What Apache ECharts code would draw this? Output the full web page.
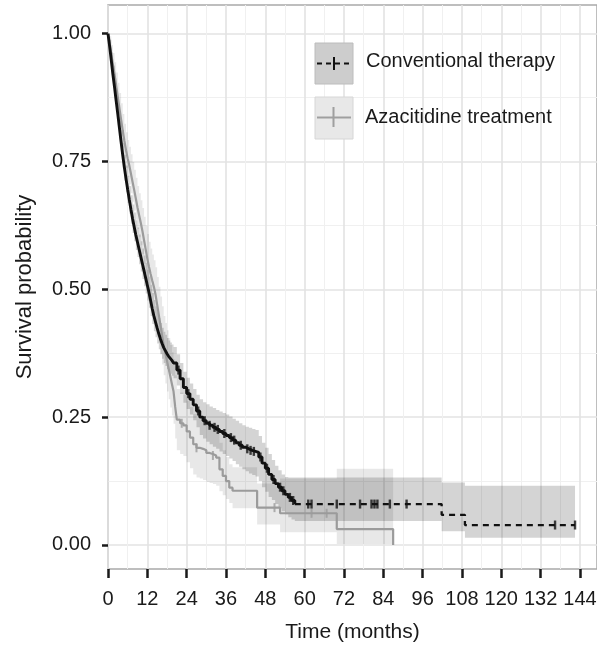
<!DOCTYPE html>
<html>
<head>
<meta charset="utf-8">
<script src="https://cdn.jsdelivr.net/npm/echarts@6/dist/echarts.min.js"></script>
<style>html,body{margin:0;padding:0;background:#fff}#c{width:597px;height:648px}</style>
</head>
<body>
<div id="c"></div>
<script>
// ---------- data ----------
const xTicks = [0, 12, 24, 36, 48, 60, 72, 84, 96, 108, 120, 132, 144];
const xMinor = [6, 18, 30, 42, 54, 66, 78, 90, 102, 114, 126, 138];
const yTicks = [0, 0.25, 0.5, 0.75, 1];
const yMinor = [0.125, 0.375, 0.625, 0.875];

const seriesNames = ['Conventional therapy', 'Azacitidine treatment'];

// Conventional therapy (Kaplan-Meier, months)
const convTime = [0,0.5,1,1.5,2,2.5,3,3.5,4,4.5,5,5.5,6,6.5,7,7.5,8,8.5,9,9.5,10,10.5,11,11.5,12,12.5,13,13.5,14,14.5,15,15.5,16,16.5,17,17.5,18,18.5,19,19.5,20,
  21,22,23,24,25,26,27,28,29,30,31,32,33,34,35,36,37,38,39,40,41,42,43,44,45,46,47,48,49,50,51,52,53,54,55,56,57,101.8,108.9,142.5];
const convSurv = [1,.975,.948,.92,.895,.868,.842,.815,.788,.762,.738,.716,.695,.675,.656,.638,.622,.606,.592,.578,.564,.55,.536,.522,.508,.494,.478,.462,.448,.436,.424,.413,.403,.394,.386,.38,.374,.369,.365,.361,.356,
  .342,.325,.308,.296,.285,.274,.262,.25,.243,.238,.234,.23,.226,.222,.218,.214,.21,.205,.2,.195,.191,.188,.185,.183,.181,.172,.16,.15,.138,.128,.12,.113,.106,.099,.093,.087,.08,.059,.039,.039];
const convLower = [1,.962,.932,.902,.876,.848,.821,.793,.765,.738,.713,.69,.669,.648,.628,.61,.594,.577,.563,.549,.535,.52,.506,.492,.478,.464,.448,.432,.418,.406,.394,.383,.373,.364,.356,.35,.344,.339,.335,.331,.326,
  .312,.295,.278,.266,.255,.244,.23,.215,.208,.202,.197,.192,.188,.183,.178,.174,.169,.164,.158,.153,.148,.144,.14,.137,.134,.125,.113,.104,.094,.088,.08,.072,.066,.06,.054,.05,.047,.027,.014,.014];
const convUpper = [1,.988,.963,.937,.913,.888,.863,.837,.811,.786,.763,.742,.722,.702,.684,.666,.65,.635,.621,.607,.594,.58,.566,.552,.538,.525,.509,.493,.479,.467,.455,.444,.434,.425,.417,.411,.405,.4,.396,.392,.387,
  .373,.356,.339,.327,.316,.305,.294,.285,.279,.275,.271,.268,.264,.261,.258,.255,.251,.247,.243,.238,.234,.231,.229,.227,.225,.213,.2,.19,.178,.166,.155,.146,.138,.133,.132,.132,.132,.122,.116,.116];
const convCensor = [21.5,24.5,27.5,29.5,31,32.5,33.5,35.5,37.5,38.5,40.5,42.5,43.5,44.5,46.5,48.5,50.5,52.5,53.5,55.5,56.5,61.1,62.1,69.8,76.9,80.4,81.3,82.2,86.0,91.1,136.4,142.5];

// Azacitidine treatment
const azaTime = [0,0.5,1,1.5,2,2.5,3,3.5,4,4.5,5,5.5,6,6.5,7,7.5,8,8.5,9,9.5,10,10.5,11,11.5,12,12.5,13,13.5,14,14.5,15,15.5,16,16.5,17,17.5,18,18.5,19,19.5,20,
  20.5,21,22,23,24,25,26,27,28,29,30,31,32,33,34,35,36,37,38,45.5,52.5,69.8,87];
const azaSurv = [1,.98,.96,.94,.92,.898,.876,.854,.832,.81,.79,.772,.756,.742,.726,.71,.694,.677,.66,.645,.63,.614,.596,.578,.56,.544,.53,.517,.505,.49,.47,.45,.43,.41,.39,.375,.36,.345,.33,.315,.30,
  .27,.245,.238,.234,.222,.21,.197,.19,.188,.185,.18,.178,.175,.171,.148,.135,.125,.112,.106,.073,.062,.031,0];
const azaLower = [1,.965,.942,.918,.896,.872,.848,.824,.8,.777,.756,.737,.72,.705,.688,.671,.654,.636,.618,.602,.586,.569,.55,.531,.512,.495,.48,.466,.453,.437,.416,.395,.374,.353,.332,.316,.3,.285,.269,.253,.237,
  .208,.185,.178,.174,.162,.15,.138,.132,.13,.127,.123,.121,.119,.116,.105,.097,.09,.082,.072,.04,.025,.002,0];
const azaUpper = [1,.995,.978,.962,.944,.924,.904,.884,.864,.843,.824,.807,.792,.779,.764,.749,.734,.718,.702,.688,.674,.659,.642,.625,.608,.593,.58,.568,.557,.543,.524,.505,.486,.467,.448,.434,.42,.405,.391,.377,.363,
  .332,.305,.298,.294,.282,.27,.256,.248,.246,.243,.237,.235,.231,.226,.2,.185,.172,.158,.152,.12,.13,.149,0];
const azaCensor = [22.5,27,32,50.8,62.1,66.7];

// ---------- helpers ----------
function pairs(t, v, from, to) {
  const out = [];
  for (let i = 0; i < t.length; i++) if (t[i] >= from && t[i] <= to) out.push([t[i], v[i]]);
  return out;
}
function stepAt(t, v, x) {
  let val = v[0];
  for (let i = 0; i < t.length; i++) { if (t[i] <= x) val = v[i]; else break; }
  return val;
}
function censorPts(times, t, v) { return times.map(x => [x, stepAt(t, v, x)]); }
function bandSeries(t, lo, hi, fill, z) {
  return {
    type: 'custom', xAxisIndex: 0, yAxisIndex: 0, data: [[0, 0]], silent: true, z: z, clip: true,
    renderItem: function (params, api) {
      const pts = [];
      for (let i = 0; i < t.length - 1; i++) { pts.push(api.coord([t[i], hi[i]])); pts.push(api.coord([t[i + 1], hi[i]])); }
      for (let i = t.length - 2; i >= 0; i--) { pts.push(api.coord([t[i + 1], lo[i]])); pts.push(api.coord([t[i], lo[i]])); }
      return { type: 'polygon', shape: { points: pts }, style: { fill: fill } };
    }
  };
}

const FONT = "'Liberation Sans', Arial, Helvetica, sans-serif";
const chart = echarts.init(document.getElementById('c'), null, { renderer: 'canvas' });

const option = {
  animation: false,
  backgroundColor: '#ffffff',
  grid: { left: 108, right: 0, top: 5, bottom: 79, show: true, borderColor: '#a9a9a9', borderWidth: 1.5, backgroundColor: 'transparent', outerBoundsMode: 'none', containLabel: false },
  xAxis: [
    { type: 'value', min: 0, max: 149.2, position: 'bottom',
      name: 'Time (months)', nameLocation: 'middle', nameGap: 53,
      nameTextStyle: { fontSize: 21, color: '#1a1a1a', fontFamily: FONT },
      axisLine: { show: false, onZero: false },
      axisTick: { show: true, length: 9, customValues: xTicks, lineStyle: { color: '#1a1a1a', width: 2.5 } },
      axisLabel: { customValues: xTicks, fontSize: 20, color: '#1a1a1a', fontFamily: FONT, margin: 20 },
      splitLine: { show: true, lineStyle: { color: '#e3e3e3', width: 1.6 } } },
    { type: 'value', min: 0, max: 149.2, position: 'top',
      axisLine: { show: false, onZero: false }, axisLabel: { show: false },
      axisTick: { show: false, customValues: xMinor },
      splitLine: { show: true, lineStyle: { color: '#f0f0f0', width: 1 } } }
  ],
  yAxis: [
    { type: 'value', min: -0.047, max: 1.056, position: 'left',
      name: 'Survival probability', nameLocation: 'middle', nameGap: 72, nameRotate: 90,
      nameTextStyle: { fontSize: 22, color: '#1a1a1a', fontFamily: FONT },
      axisLine: { show: false, onZero: false },
      axisTick: { show: true, length: 6, customValues: yTicks, lineStyle: { color: '#1a1a1a', width: 2.5 } },
      axisLabel: { customValues: yTicks, fontSize: 20, color: '#1a1a1a', fontFamily: FONT, margin: 17, formatter: v => v.toFixed(2) },
      splitLine: { show: true, lineStyle: { color: '#e3e3e3', width: 1.6 } } },
    { type: 'value', min: -0.047, max: 1.056, position: 'right',
      axisLine: { show: false, onZero: false }, axisLabel: { show: false },
      axisTick: { show: false, customValues: yMinor },
      splitLine: { show: true, lineStyle: { color: '#f0f0f0', width: 1 } } }
  ],
  series: [
    bandSeries(azaTime, azaLower, azaUpper, 'rgba(0,0,0,0.09)', 1),
    bandSeries(convTime, convLower, convUpper, 'rgba(0,0,0,0.17)', 2),
    { name: seriesNames[1], type: 'line', step: 'end', showSymbol: false, symbol: 'none', z: 3,
      data: pairs(azaTime, azaSurv, 0, 200), lineStyle: { color: '#9b9b9b', width: 2.2 } },
    { name: seriesNames[0], type: 'line', step: 'end', showSymbol: false, symbol: 'none', z: 4,
      data: pairs(convTime, convSurv, 0, 57), lineStyle: { color: '#111111', width: 2.9 } },
    { name: seriesNames[0] + ' tail', type: 'line', step: 'end', showSymbol: false, symbol: 'none', z: 4,
      data: pairs(convTime, convSurv, 57, 200), lineStyle: { color: '#111111', width: 2.3, type: [6, 5] } },
    { type: 'scatter', z: 5, silent: true, symbol: 'rect', symbolSize: [2, 9],
      itemStyle: { color: '#9b9b9b' }, data: censorPts(azaCensor, azaTime, azaSurv) },
    { type: 'scatter', z: 6, silent: true, symbol: 'rect', symbolSize: [2.4, 9],
      itemStyle: { color: '#111111' }, data: censorPts(convCensor, convTime, convSurv) }
  ],
  graphic: [
    { type: 'rect', shape: { x: 315, y: 43, width: 38, height: 41 }, style: { fill: '#cdcdcd', stroke: '#bcbcbc', lineWidth: 1 }, z: 10 },
    { type: 'line', shape: { x1: 317, y1: 63.5, x2: 351, y2: 63.5 }, style: { stroke: '#111', lineWidth: 2.2, lineDash: [5, 4] }, z: 11 },
    { type: 'line', shape: { x1: 334, y1: 57, x2: 334, y2: 70 }, style: { stroke: '#111', lineWidth: 2 }, z: 11 },
    { type: 'rect', shape: { x: 315, y: 97, width: 38, height: 42 }, style: { fill: '#e8e8e8', stroke: '#d6d6d6', lineWidth: 1 }, z: 10 },
    { type: 'line', shape: { x1: 317, y1: 117.5, x2: 351, y2: 117.5 }, style: { stroke: '#9f9f9f', lineWidth: 2.2 }, z: 11 },
    { type: 'line', shape: { x1: 333.5, y1: 107, x2: 333.5, y2: 127 }, style: { stroke: '#9f9f9f', lineWidth: 2 }, z: 11 },
    { type: 'text', x: 366, y: 61, z: 11, style: { text: seriesNames[0], fontSize: 20, fontFamily: FONT, fill: '#1a1a1a', verticalAlign: 'middle', align: 'left' } },
    { type: 'text', x: 365, y: 117, z: 11, style: { text: seriesNames[1], fontSize: 20, fontFamily: FONT, fill: '#1a1a1a', verticalAlign: 'middle', align: 'left' } }
  ]
};
chart.setOption(option);
</script>
</body>
</html>
